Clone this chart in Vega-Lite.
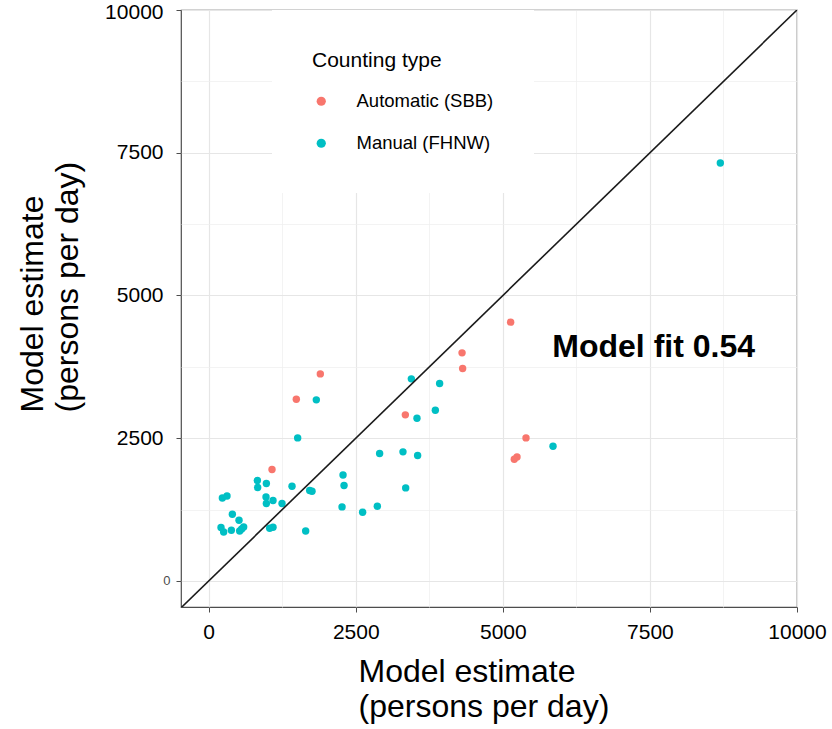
{
  "$schema": "https://vega.github.io/schema/vega-lite/v6.json",
  "width": 616,
  "height": 597,
  "autosize": {"type": "none"},
  "padding": {"left": 181, "top": 10, "right": 35, "bottom": 122},
  "background": "white",
  "config": {
    "font": "Liberation Sans",
    "view": {"stroke": "#4d4d4d", "strokeWidth": 1.2},
    "axis": {
      "domain": false,
      "tickColor": "#4d4d4d",
      "tickSize": 5,
      "labelColor": "black",
      "labelFontSize": 21,
      "titleFontSize": 32,
      "titleFontWeight": "normal",
      "titleColor": "black",
      "titleLineHeight": 35,
      "labelFlush": false
    }
  },
  "data": {
    "values": [
      {"x": 5133, "y": 4533, "type": "Automatic (SBB)"},
      {"x": 4307, "y": 3995, "type": "Automatic (SBB)"},
      {"x": 4317, "y": 3722, "type": "Automatic (SBB)"},
      {"x": 1898, "y": 3627, "type": "Automatic (SBB)"},
      {"x": 1490, "y": 3184, "type": "Automatic (SBB)"},
      {"x": 3343, "y": 2909, "type": "Automatic (SBB)"},
      {"x": 1077, "y": 1952, "type": "Automatic (SBB)"},
      {"x": 5394, "y": 2506, "type": "Automatic (SBB)"},
      {"x": 5241, "y": 2173, "type": "Automatic (SBB)"},
      {"x": 5195, "y": 2133, "type": "Automatic (SBB)"},
      {"x": 8697, "y": 7319, "type": "Manual (FHNW)"},
      {"x": 5853, "y": 2360, "type": "Manual (FHNW)"},
      {"x": 3926, "y": 3459, "type": "Manual (FHNW)"},
      {"x": 3445, "y": 3540, "type": "Manual (FHNW)"},
      {"x": 1830, "y": 3172, "type": "Manual (FHNW)"},
      {"x": 3853, "y": 2991, "type": "Manual (FHNW)"},
      {"x": 3541, "y": 2851, "type": "Manual (FHNW)"},
      {"x": 1513, "y": 2506, "type": "Manual (FHNW)"},
      {"x": 2906, "y": 2232, "type": "Manual (FHNW)"},
      {"x": 3303, "y": 2261, "type": "Manual (FHNW)"},
      {"x": 3552, "y": 2197, "type": "Manual (FHNW)"},
      {"x": 2284, "y": 1857, "type": "Manual (FHNW)"},
      {"x": 2301, "y": 1671, "type": "Manual (FHNW)"},
      {"x": 3349, "y": 1630, "type": "Manual (FHNW)"},
      {"x": 828, "y": 1759, "type": "Manual (FHNW)"},
      {"x": 833, "y": 1637, "type": "Manual (FHNW)"},
      {"x": 981, "y": 1706, "type": "Manual (FHNW)"},
      {"x": 1417, "y": 1659, "type": "Manual (FHNW)"},
      {"x": 1717, "y": 1584, "type": "Manual (FHNW)"},
      {"x": 1757, "y": 1572, "type": "Manual (FHNW)"},
      {"x": 975, "y": 1472, "type": "Manual (FHNW)"},
      {"x": 981, "y": 1356, "type": "Manual (FHNW)"},
      {"x": 1094, "y": 1409, "type": "Manual (FHNW)"},
      {"x": 1247, "y": 1356, "type": "Manual (FHNW)"},
      {"x": 233, "y": 1454, "type": "Manual (FHNW)"},
      {"x": 312, "y": 1489, "type": "Manual (FHNW)"},
      {"x": 403, "y": 1169, "type": "Manual (FHNW)"},
      {"x": 516, "y": 1064, "type": "Manual (FHNW)"},
      {"x": 210, "y": 935, "type": "Manual (FHNW)"},
      {"x": 255, "y": 859, "type": "Manual (FHNW)"},
      {"x": 386, "y": 888, "type": "Manual (FHNW)"},
      {"x": 527, "y": 876, "type": "Manual (FHNW)"},
      {"x": 561, "y": 911, "type": "Manual (FHNW)"},
      {"x": 595, "y": 946, "type": "Manual (FHNW)"},
      {"x": 1037, "y": 923, "type": "Manual (FHNW)"},
      {"x": 1094, "y": 941, "type": "Manual (FHNW)"},
      {"x": 1649, "y": 876, "type": "Manual (FHNW)"},
      {"x": 2267, "y": 1297, "type": "Manual (FHNW)"},
      {"x": 2617, "y": 1204, "type": "Manual (FHNW)"},
      {"x": 2867, "y": 1309, "type": "Manual (FHNW)"}
    ]
  },
  "layer": [
    {
      "mark": {"type": "point", "filled": true, "size": 55, "opacity": 1, "strokeWidth": 0},
      "encoding": {
        "x": {
          "field": "x",
          "type": "quantitative",
          "scale": {"domain": [-470, 10000], "nice": false, "zero": false},
          "axis": {
            "title": ["Model estimate", "(persons per day)"],
            "values": [0, 1250, 2500, 3750, 5000, 6250, 7500, 8750, 10000],
            "labelExpr": "datum.value % 2500 === 0 ? format(datum.value, 'd') : ''",
            "labelPadding": 9,
            "tickOpacity": {"condition": {"test": "datum.value % 2500 === 0", "value": 1}, "value": 0},
            "gridColor": {"condition": {"test": "datum.value % 2500 === 0", "value": "#e6e6e6"}, "value": "#eeeeee"},
            "gridWidth": {"condition": {"test": "datum.value % 2500 === 0", "value": 1.2}, "value": 0.7},
            "titleBaseline": "top",
            "titleAlign": "left",
            "titleAnchor": "start",
            "titleX": 177,
            "titleY": 49
          }
        },
        "y": {
          "field": "y",
          "type": "quantitative",
          "scale": {"domain": [-456, 10000], "nice": false, "zero": false},
          "axis": {
            "title": ["Model estimate", "(persons per day)"],
            "values": [0, 1250, 2500, 3750, 5000, 6250, 7500, 8750, 10000],
            "labelExpr": "datum.value % 2500 === 0 ? format(datum.value, 'd') : ''",
            "labelPadding": {"condition": {"test": "datum.value === 0", "value": 6}, "value": 13},
            "labelOffset": {"condition": {"test": "datum.value === 10000", "value": 2}, "value": 0},
            "labelFontSize": {"condition": {"test": "datum.value === 0", "value": 13}, "value": 21},
            "labelColor": {"condition": {"test": "datum.value === 0", "value": "#4d4d4d"}, "value": "black"},
            "tickOpacity": {"condition": {"test": "datum.value % 2500 === 0", "value": 1}, "value": 0},
            "gridColor": {"condition": {"test": "datum.value % 2500 === 0", "value": "#e6e6e6"}, "value": "#eeeeee"},
            "gridWidth": {"condition": {"test": "datum.value % 2500 === 0", "value": 1.2}, "value": 0.7},
            "titleAngle": 270,
            "titleBaseline": "top",
            "titleAlign": "left",
            "titleAnchor": "start",
            "titleX": -164,
            "titleY": 402
          }
        },
        "color": {
          "field": "type",
          "type": "nominal",
          "scale": {"domain": ["Automatic (SBB)", "Manual (FHNW)"], "range": ["#F8766D", "#00BFC4"]},
          "legend": {
            "title": "Counting type",
            "orient": "none",
            "legendX": 91,
            "legendY": 0,
            "padding": 40,
            "fillColor": "white",
            "titleFontSize": 21,
            "titleFontWeight": "normal",
            "titleColor": "black",
            "titlePadding": 21,
            "labelFontSize": 18.5,
            "labelColor": "black",
            "labelOffset": 26,
            "rowPadding": 23,
            "symbolType": "circle",
            "symbolSize": 85,
            "symbolStrokeWidth": 0
          }
        }
      }
    },
    {
      "data": {"values": [{"v": -470}, {"v": 10000}]},
      "mark": {"type": "line", "color": "#1a1a1a", "strokeWidth": 1.6, "clip": true},
      "encoding": {
        "x": {"field": "v", "type": "quantitative"},
        "y": {"field": "v", "type": "quantitative"}
      }
    },
    {
      "data": {"values": [{}]},
      "mark": {"type": "text", "text": "Model fit 0.54", "fontSize": 32, "fontWeight": "bold", "align": "left", "baseline": "alphabetic", "color": "black"},
      "encoding": {
        "x": {"datum": 5841},
        "y": {"datum": 3914}
      }
    }
  ]
}
